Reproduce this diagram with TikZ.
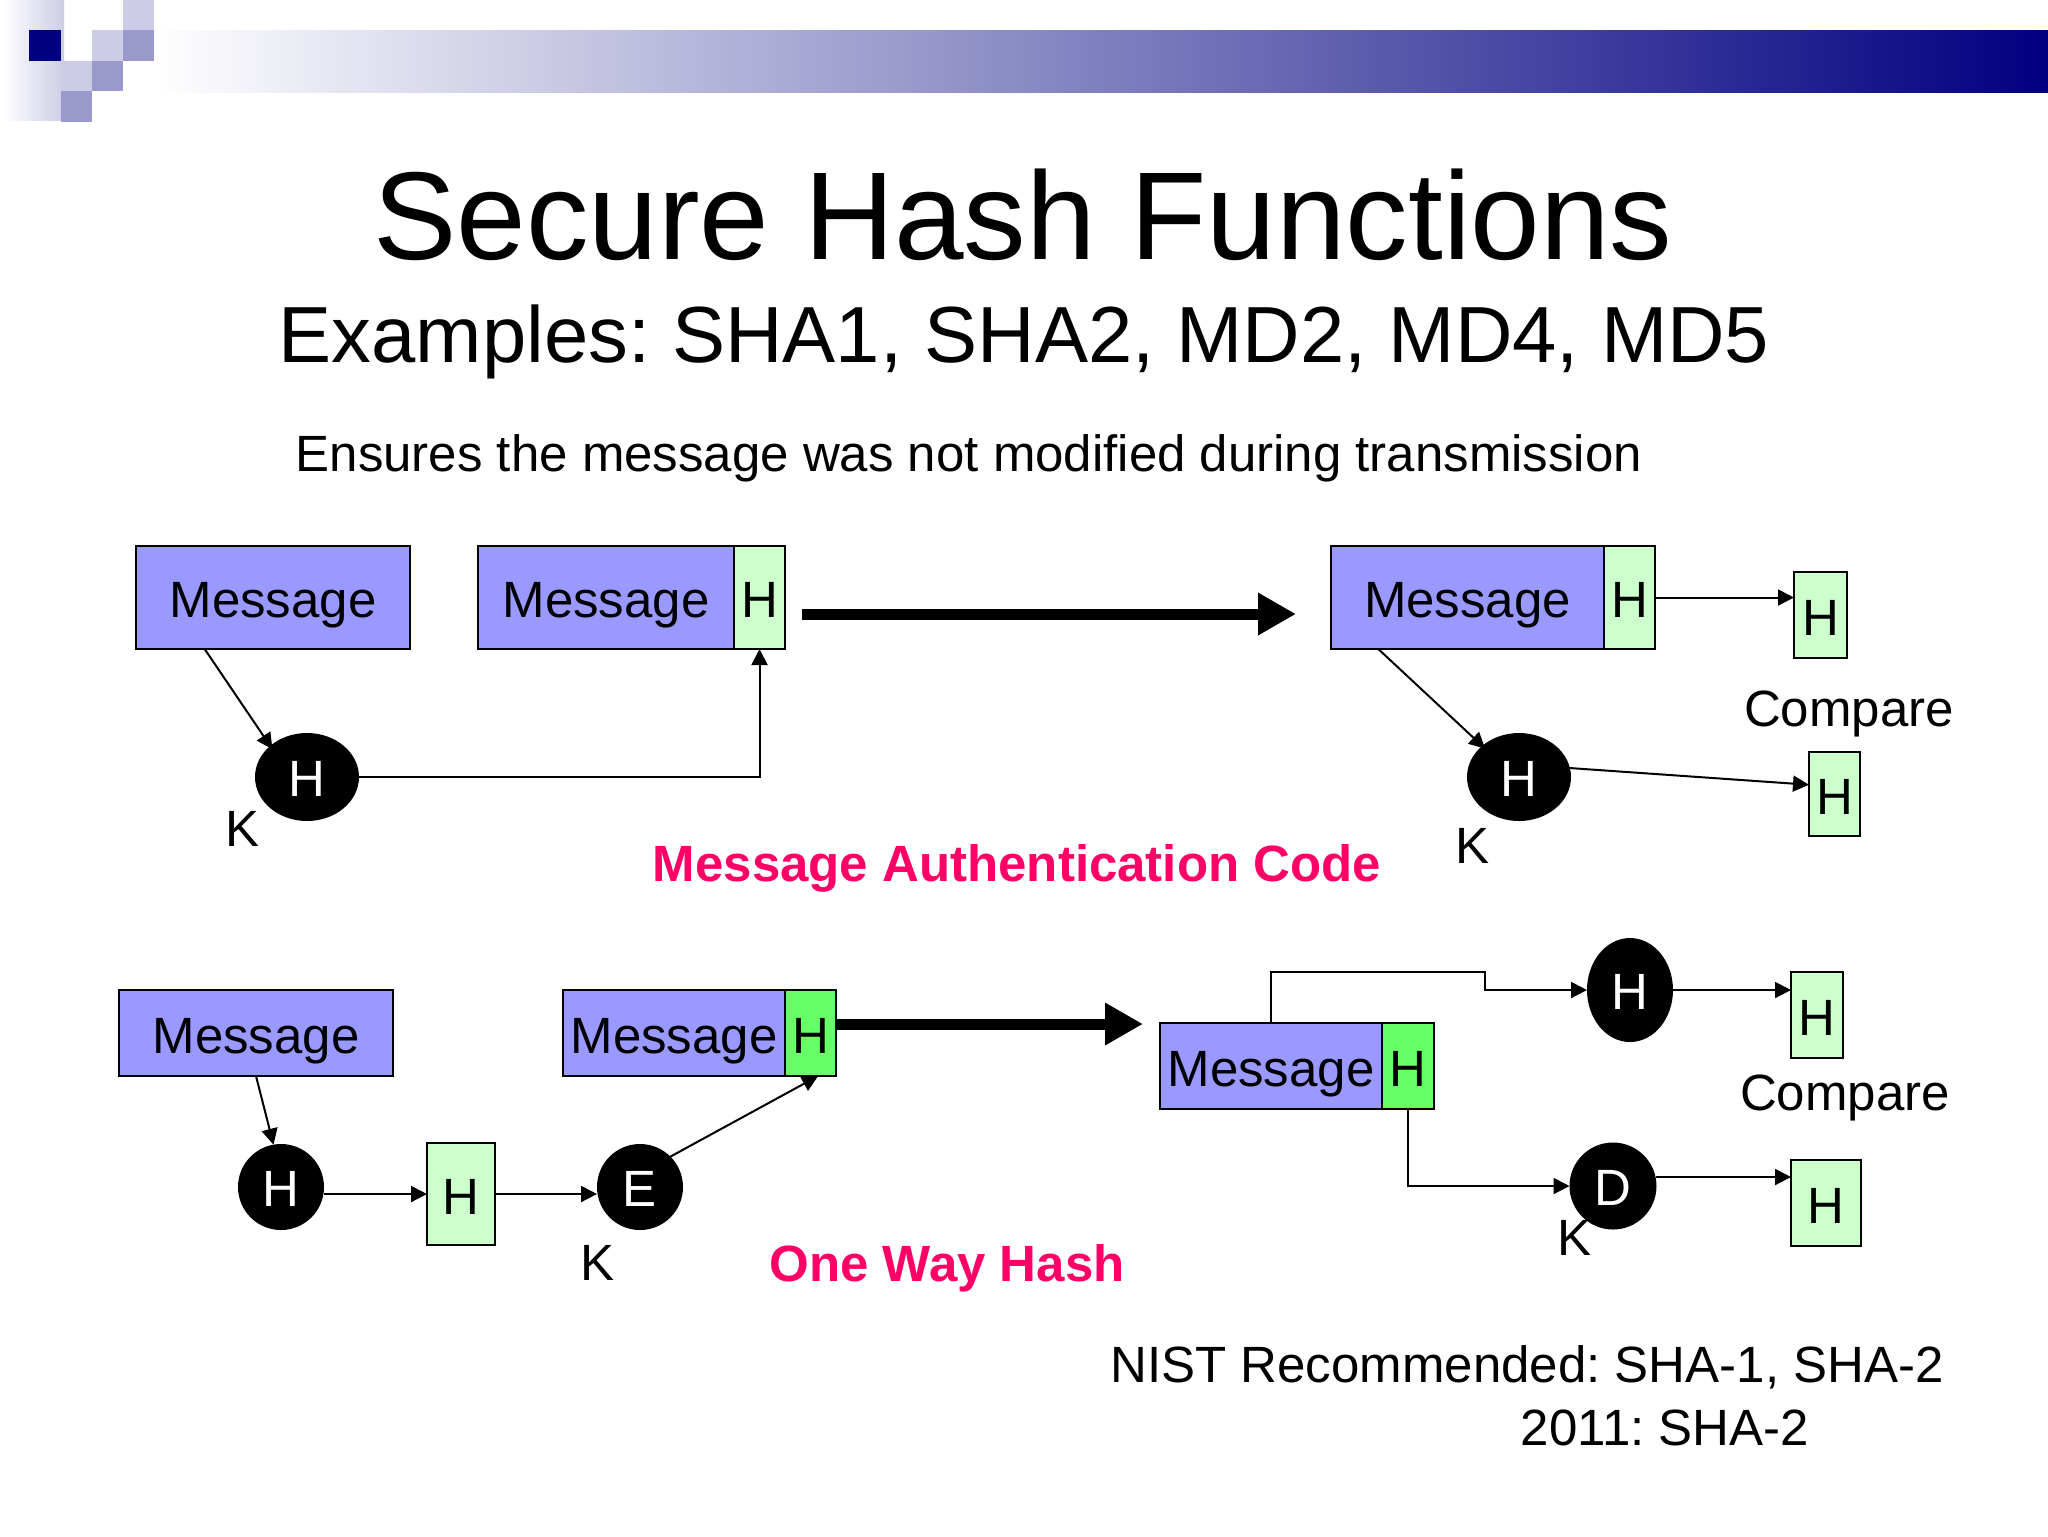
\documentclass[tikz,border=0pt]{standalone}
\usepackage{fontspec}
\setmainfont{Liberation Sans}
\usetikzlibrary{arrows.meta,positioning,shapes}

\definecolor{msgblue}{HTML}{9999FF}
\definecolor{palegreen}{HTML}{CCFFCC}
\definecolor{hotgreen}{HTML}{66FF66}
\definecolor{hotpink}{HTML}{FF0066}
\definecolor{lightsq}{HTML}{CCCCE6}
\definecolor{midsq}{HTML}{9999CC}
\definecolor{darksq}{HTML}{000080}
\newcommand{\fs}[1]{\fontsize{#1}{#1}\selectfont}
\frenchspacing

\tikzset{
  lbl/.style={inner sep=0,outer sep=0,font=\fs{12.75}},
  box/.style={draw,line width=0.5pt,inner sep=0,outer sep=0,text height=10pt,text depth=0pt,font=\fs{12.75}},
  msg/.style={box,fill=msgblue},
  sum/.style={box,fill=palegreen},
  hot/.style={box,fill=hotgreen},
  tall/.style={minimum height=25.75pt},
  low/.style={minimum height=21.5pt},
  fn/.style={ellipse,fill=black,text=white,inner sep=0,outer sep=0,text height=9.6pt,text depth=0pt,font=\fs{12.75}},
  flow/.style={->,line width=0.5pt},
  bigflow/.style={-{Triangle[length=9.5pt,width=10pt]},line width=2.75pt},
  caption/.style={inner sep=0,outer sep=0,text=hotpink,font=\fs{12.75}\bfseries},
}

\begin{document}
\begin{tikzpicture}[x=0.25pt,y=-0.25pt,>={Triangle[length=4pt,width=4pt]}]
  \useasboundingbox (0,0) rectangle (2048,1536);
  % slide banner
  \shade[left color=white,right color=lightsq] (3,0) rectangle (64,120);
  \shade[left color=white,right color=darksq] (154,30) rectangle (2048,92);
  \fill[lightsq] (123,0) rectangle (154,30);
  \fill[lightsq] (92,30) rectangle (123,61);
  \fill[lightsq] (61,61) rectangle (92,91);
  \fill[midsq] (123,30) rectangle (154,61);
  \fill[midsq] (92,61) rectangle (123,91);
  \fill[midsq] (61,91) rectangle (92,122);
  \fill[darksq] (29,30) rectangle (61,61);

  \node[lbl,font=\fs{31.25}] (title) at (1023,215) {Secure Hash Functions};
  \node[lbl,font=\fs{19.9}] (examples) at (1024,342) {Examples: SHA1, SHA2, MD2, MD4, MD5};
  \node[lbl] (ensures) at (969,458) {Ensures the message was not modified during transmission};

  % message authentication code
  \node[msg,tall,minimum width=68.5pt] (msgA) at (273,597.5) {Message};
  \node[msg,tall,minimum width=64pt] (msgB) at (606,597.5) {Message};
  \node[sum,tall,minimum width=12.75pt,right=0pt of msgB] (hB) {H};
  \node[msg,tall,minimum width=68.25pt] (msgC) at (1467.5,597.5) {Message};
  \node[sum,tall,minimum width=12.75pt,right=0pt of msgC] (hC) {H};
  \node[fn,minimum width=26pt,minimum height=22pt] (hashA) at (307,777) {H};
  \node[fn,minimum width=26pt,minimum height=22pt] (hashB) at (1519,777) {H};
  \node[sum,minimum width=13.25pt,minimum height=21.5pt] (resA) at (1820.5,615) {H};
  \node[sum,minimum width=12.75pt,minimum height=21pt] (resB) at (1834.5,794) {H};
  \node[lbl] (cmpA) at (1849,714) {Compare};
  \node[lbl] (keyA) at (243,829) {K};
  \node[lbl] (keyB) at (1472,846) {K};
  \node[caption] (mac) at (1017,868) {Message Authentication Code};
  \coordinate (bigAs) at (802,614);
  \coordinate (bigAe) at (1296,614);

  \draw[flow,shorten >=-1pt] (msgA.-143) -- (hashA.north west);
  \draw[flow] (hashA.east) -| (hB.south);
  \draw[bigflow] (bigAs) -- (bigAe);
  \draw[flow,shorten >=-1pt] (msgC.-150) -- (hashB.north west);
  \draw[flow] (hC.east) -- (hC.east -| resA.west);
  \draw[flow] (hashB.10) -- (resB.160);

  % one way hash
  \node[msg,low,minimum width=68.5pt] (msgD) at (256,1033) {Message};
  \node[msg,low,minimum width=55.5pt] (msgE) at (674,1033) {Message};
  \node[hot,low,minimum width=12.75pt,right=0pt of msgE] (hE) {H};
  \node[msg,low,minimum width=55.5pt] (msgF) at (1271,1066) {Message};
  \node[hot,low,minimum width=13pt,right=0pt of msgF] (hF) {H};
  \node[fn,minimum width=21.5pt,minimum height=21.5pt] (hashC) at (281,1187) {H};
  \node[sum,minimum width=17pt,minimum height=25.5pt] (keyH) at (461,1194) {H};
  \node[fn,minimum width=21.5pt,minimum height=21.5pt] (encE) at (640,1187) {E};
  \node[fn,minimum width=21.5pt,minimum height=26pt] (hashD) at (1630,990) {H};
  \node[fn,minimum width=21.75pt,minimum height=21.75pt] (decD) at (1613,1186) {D};
  \node[sum,minimum width=13pt,minimum height=21.5pt] (resC) at (1817,1015) {H};
  \node[sum,minimum width=17.5pt,minimum height=21.5pt] (resD) at (1826,1203) {H};
  \node[lbl] (cmpB) at (1845,1098) {Compare};
  \node[lbl] (keyC) at (598,1263) {K};
  \node[lbl] (keyD) at (1574,1238) {K};
  \node[caption] (owh) at (947,1268) {One Way Hash};
  \coordinate (bigBs) at (836,1024);
  \coordinate (bigBe) at (1143,1024);
  \coordinate (bendA) at (1485,972);
  \coordinate (bendB) at (1485,990);
  \coordinate (tapD) at (1656,1177);

  \draw[flow] (msgD.south) -- (hashC.100);
  \draw[flow] (keyH.west -| hashC.east) -- (keyH.west);
  \draw[flow] (keyH.east) -- (keyH.east -| encE.west);
  \draw[flow] (encE.45) -- (hE.-80);
  \draw[bigflow] (bigBs) -- (bigBe);
  \draw[flow] (msgF.north) |- (bendA) -- (bendB) -- (hashD.west);
  \draw[flow] (hF.south) |- (decD.west);
  \draw[flow] (hashD.east) -- (hashD.east -| resC.west);
  \draw[flow] (tapD) -- (tapD -| resD.west);

  \node[lbl] (nistA) at (1527,1367) {NIST Recommended: SHA-1, SHA-2};
  \node[lbl] (nistB) at (1665,1428) {2011: SHA-2};
\end{tikzpicture}
\end{document}
